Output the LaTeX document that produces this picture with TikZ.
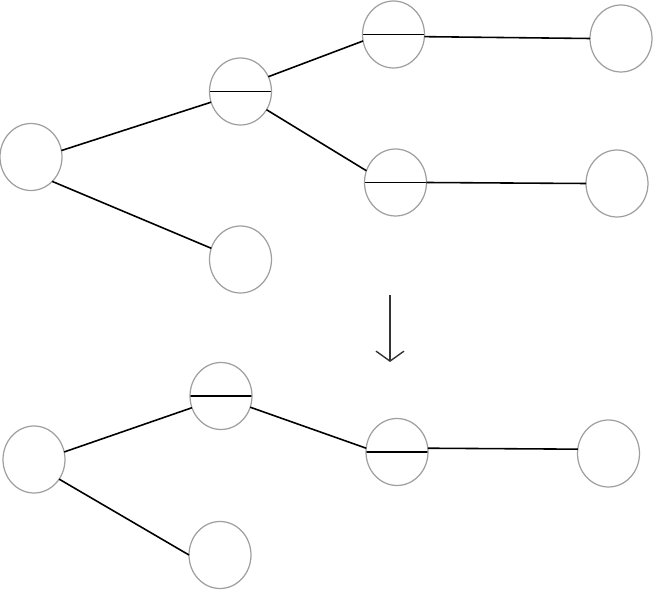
\documentclass[tikz,border=0pt]{standalone}
\usetikzlibrary{shapes.geometric,arrows.meta}

\begin{document}
\begin{tikzpicture}[x=0.02cm, y=-0.02cm,
  vertex/.style={ellipse, draw=gray!75, line width=0.7pt, minimum width=1.24cm, minimum height=1.34cm, inner sep=0pt, outer sep=0pt},
  splitvertex/.style={vertex, path picture={\draw[black, line width=0.9pt] (path picture bounding box.west) -- (path picture bounding box.east);}},
  link/.style={black, line width=0.9pt}]
\useasboundingbox (0,0) rectangle (654,591);
\node[vertex] (n1) at (31,157) {};
\node[splitvertex] (n2) at (240.5,91.5) {};
\node[vertex] (n3) at (240.5,259.5) {};
\node[splitvertex] (n4) at (393.5,34.5) {};
\node[splitvertex] (n5) at (395.5,182.5) {};
\node[vertex] (n6) at (621,38.5) {};
\node[vertex] (n7) at (617,183.5) {};
\draw[link] (n1.12) -- (n2.200);
\draw[link] (n1.-49) -- (n3.159);
\draw[link] (n2.28) -- (n4.192);
\draw[link] (n2.-35) -- (n5.158);
\draw[link] (n4.-4) -- (n6.west);
\draw[link] (n5.east) -- (n7.west);
\coordinate (from) at (390,295);
\coordinate (to) at (390,362);
\draw[gray!40!black, line width=0.8pt, -{Straight Barb[length=2mm,width=5.6mm]}] (from) -- (to);
\node[vertex] (m1) at (34,459.5) {};
\node[splitvertex] (m2) at (221,396) {};
\node[vertex] (m3) at (220,555) {};
\node[splitvertex] (m4) at (397,452) {};
\node[vertex] (m5) at (608.5,453.5) {};
\draw[link] (m1.14) -- (m2.202);
\draw[link] (m1.-38) -- (m3.west);
\draw[link] (m2.-21) -- (m4.173);
\draw[link] (m4.7) -- (m5.172);
\end{tikzpicture}
\end{document}
